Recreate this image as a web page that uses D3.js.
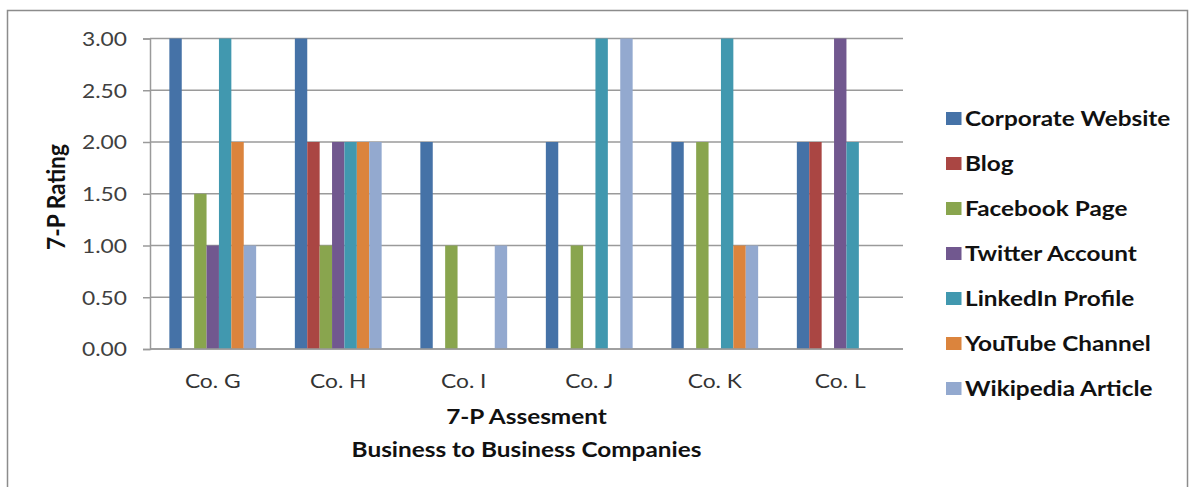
<!DOCTYPE html>
<html><head><meta charset="utf-8">
<script src="https://cdn.jsdelivr.net/npm/d3@7"></script>
<style>html,body{margin:0;padding:0;background:#fff;}svg{display:block;font-family:Lato,"Open Sans",sans-serif;}</style>
</head><body>
<svg id="chart" width="1190" height="487"></svg>
<script>
const categories = ["Co. G","Co. H","Co. I","Co. J","Co. K","Co. L"];
const seriesNames = ["Corporate Website","Blog","Facebook Page","Twitter Account","LinkedIn Profile","YouTube Channel","Wikipedia Article"];
const corporateWebsite = [3,3,2,2,2,2];
const blog = [0,2,0,0,0,2];
const facebookPage = [1.5,1,1,1,2,0];
const twitterAccount = [1,2,0,0,0,3];
const linkedinProfile = [3,2,0,3,3,2];
const youtubeChannel = [2,2,0,0,1,0];
const wikipediaArticle = [1,2,1,3,1,0];
const yTicks = [0,0.5,1,1.5,2,2.5,3];
const colors = ["#4572A7","#AA4643","#89A54E","#71588F","#4198AF","#DB843D","#93A9CF"];

const seriesValues = [corporateWebsite,blog,facebookPage,twitterAccount,linkedinProfile,youtubeChannel,wikipediaArticle];

(function(){
const SX = 1.2; // horizontal stretch of text in the reference
const svg = d3.select("#chart");
// outer frame
svg.append("rect").attr("x",7.5).attr("y",10.5).attr("width",1180).attr("height",490)
  .attr("fill","none").attr("stroke","#8c8c8c").attr("stroke-width",1.5);

const pL = 150, pR = 903, pT = 38.5, pB = 349;
const x = d3.scaleBand().domain(categories).range([pL,pR]).paddingInner(0).paddingOuter(0);
const y = d3.scaleLinear().domain([0,3]).range([pB,pT]);
const barW = x.bandwidth()*0.0988;
const xs = d3.scaleBand().domain(seriesNames).range([0, barW*7]);

// gridlines
svg.append("g").selectAll("line").data(yTicks).join("line")
  .attr("x1",pL).attr("x2",pR).attr("y1",d=>y(d)).attr("y2",d=>y(d))
  .attr("stroke","#9a9a9a").attr("stroke-width",1.5);

// y axis
const yAxis = svg.append("g").attr("transform",`translate(${pL},0)`)
  .call(d3.axisLeft(y).tickValues(yTicks).tickFormat(d3.format(".2f")).tickSize(7).tickPadding(16));
yAxis.select(".domain").attr("stroke","#9a9a9a").attr("stroke-width",1.5);
yAxis.selectAll(".tick line").attr("stroke","#9a9a9a").attr("stroke-width",1.5);
yAxis.selectAll("text").attr("x",0).attr("dy","0.36em")
  .attr("transform",`translate(-23,0) scale(${SX},1)`)
  .attr("font-size",19).attr("fill","#404040").attr("font-family","Lato");

// bars
const groups = svg.append("g").selectAll("g").data(categories).join("g")
  .attr("transform",d=>`translate(${x(d)+x.bandwidth()/2-barW*3.5},0)`);
groups.selectAll("rect").data((c,i)=>seriesNames.map((s,j)=>({s,j,v:seriesValues[j][i]})).filter(d=>d.v>0))
  .join("rect")
  .attr("x",d=>xs(d.s)).attr("width",xs.bandwidth())
  .attr("y",d=>y(d.v)).attr("height",d=>y(0)-y(d.v))
  .attr("fill",d=>colors[d.j]);

// x axis baseline
svg.append("line").attr("x1",pL).attr("x2",pR).attr("y1",pB).attr("y2",pB)
  .attr("stroke","#9a9a9a").attr("stroke-width",1.5);
const xAxis = svg.append("g").attr("transform",`translate(0,${pB})`)
  .call(d3.axisBottom(x).tickSize(0).tickPadding(22));
xAxis.select(".domain").remove();
xAxis.selectAll("text").attr("y",0).attr("dy",0)
  .attr("transform",`translate(0,39) scale(${SX},1)`)
  .attr("font-size",19).attr("fill","#333").attr("font-family","Lato");

// axis titles
const cx = (pL+pR)/2;
svg.append("text").attr("transform",`translate(${cx},424) scale(${SX},1)`).attr("text-anchor","middle")
  .attr("font-size",20.3).attr("font-weight","bold").attr("fill","#111").text("7-P Assesment");
svg.append("text").attr("transform",`translate(${cx},457) scale(${SX},1)`).attr("text-anchor","middle")
  .attr("font-size",20.3).attr("font-weight","bold").attr("fill","#111").text("Business to Business Companies");
svg.append("text").attr("transform","translate(65,197) rotate(-90) scale(1.12,1.2)").attr("text-anchor","middle")
  .attr("font-size",20.3).attr("font-weight","bold").attr("fill","#111").text("7-P Rating");

// legend
const lg = svg.append("g").selectAll("g").data(seriesNames).join("g")
  .attr("transform",(d,i)=>`translate(946,${126+i*45})`);
lg.append("rect").attr("x",0).attr("y",-14).attr("width",15.5).attr("height",13).attr("fill",(d,i)=>colors[i]);
lg.append("text").attr("transform",`translate(19,0) scale(${SX},1)`)
  .attr("font-size",20.3).attr("font-weight","bold").attr("fill","#111").text(d=>d);
})();
</script>
</body></html>
